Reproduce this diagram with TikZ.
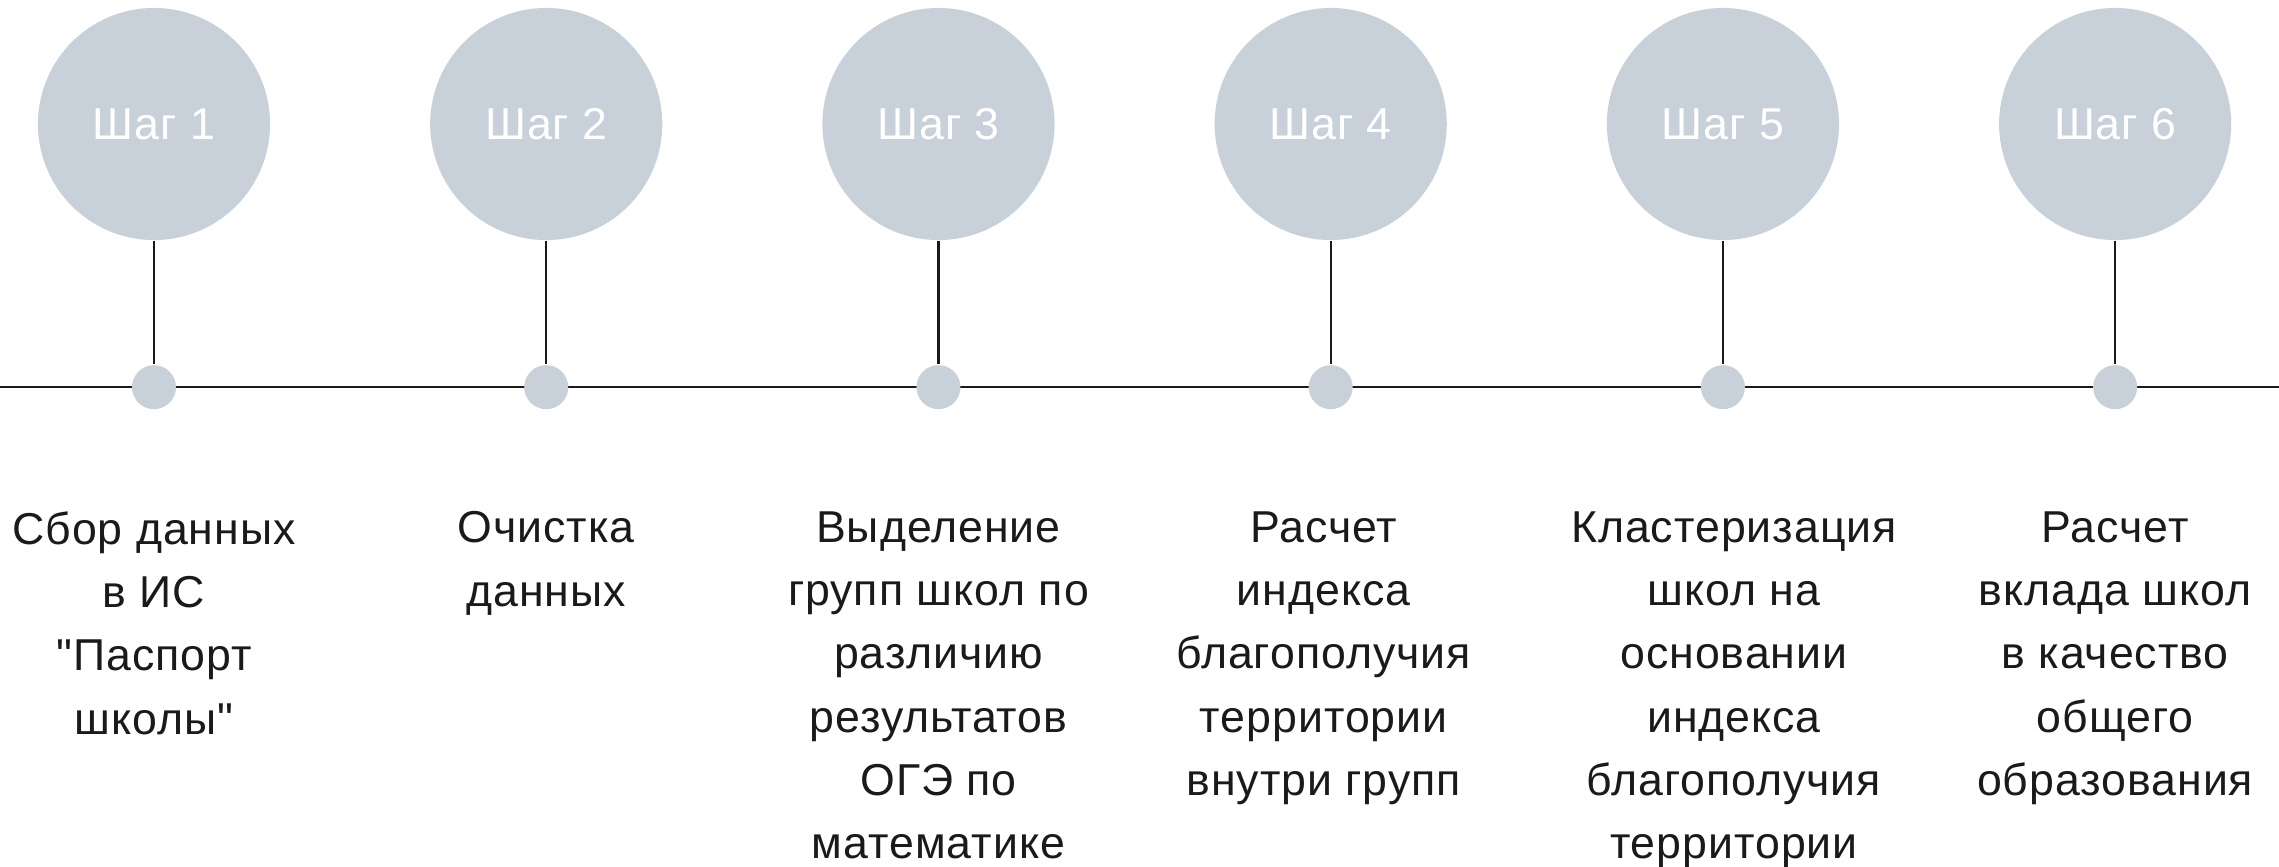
\documentclass[tikz,border=0pt]{standalone}
\usepackage{fontspec}
\setmainfont{Liberation Sans}[Ligatures=TeXOff, LetterSpace=2.2]
\usetikzlibrary{positioning}
\definecolor{stepgray}{RGB}{200,209,217}
\definecolor{inkline}{RGB}{26,26,26}
\begin{document}
\begin{tikzpicture}[x=0.01cm, y=-0.01cm, node distance=3.92cm]
    \tikzset{
    stepcircle/.style={
        circle,
        fill=stepgray,
        minimum size=2.32cm,
        inner sep=0,
        text=white,
        font=\fontsize{12.7}{18}\selectfont
    },
    dot/.style={
        circle, fill=stepgray, minimum size=0.44cm, inner sep=0
    },
    desc/.style={
        align=center,
        inner sep=0,
        text=inkline,
        font=\fontsize{12.7}{18}\selectfont
    },
    link/.style={
        draw=inkline, line width=0.6pt
    }
}
    \useasboundingbox (0,0) rectangle (2279,866);

    % Шаги
    \node[stepcircle] (s1) at (154,124) {Шаг 1};
    \node[stepcircle, right of = s1] (s2) {Шаг 2};
    \node[stepcircle, right of = s2] (s3) {Шаг 3};
    \node[stepcircle, right of = s3] (s4) {Шаг 4};
    \node[stepcircle, right of = s4] (s5) {Шаг 5};
    \node[stepcircle, right of = s5] (s6) {Шаг 6};

    % Линия времени
    \coordinate (tlstart) at (0,387);
    \coordinate (tlend) at (2279,387);
    \draw[link] (tlstart) -- (tlend);

    \node[dot, below of = s1, node distance=2.63cm] (d1) {};
    \node[dot, below of = s2, node distance=2.63cm] (d2) {};
    \node[dot, below of = s3, node distance=2.63cm] (d3) {};
    \node[dot, below of = s4, node distance=2.63cm] (d4) {};
    \node[dot, below of = s5, node distance=2.63cm] (d5) {};
    \node[dot, below of = s6, node distance=2.63cm] (d6) {};

    \draw[link] (s1) -- (d1);
    \draw[link] (s2) -- (d2);
    \draw[link] (s3) -- (d3);
    \draw[link] (s4) -- (d4);
    \draw[link] (s5) -- (d5);
    \draw[link] (s6) -- (d6);

    % Описания
    \node[desc, below=1.01cm of d1] (t1) {Сбор данных\\в ИС\\"Паспорт\\школы"};
    \node[desc, below=1.01cm of d2] (t2) {Очистка\\данных};
    \node[desc, below=1.01cm of d3] (t3) {Выделение\\групп школ по\\различию\\результатов\\ОГЭ по\\математике};
    \node[desc, below=1.01cm of d4, xshift=-0.07cm] (t4) {Расчет\\индекса\\благополучия\\территории\\внутри групп};
    \node[desc, below=1.01cm of d5, xshift=0.11cm] (t5) {Кластеризация\\школ на\\основании\\индекса\\благополучия\\территории};
    \node[desc, below=1.01cm of d6] (t6) {Расчет\\вклада школ\\в качество\\общего\\образования};
\end{tikzpicture}
\end{document}
